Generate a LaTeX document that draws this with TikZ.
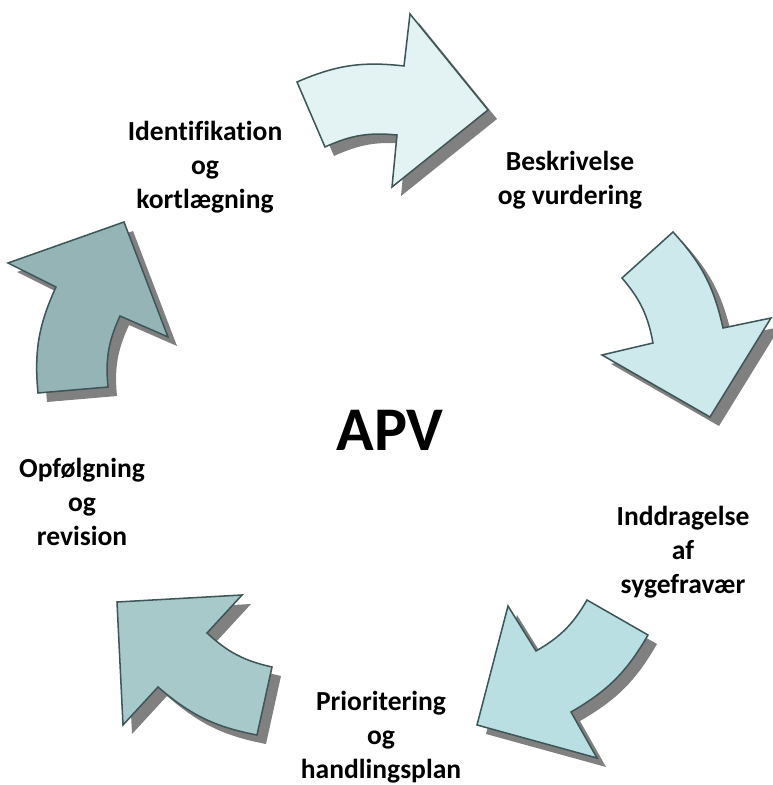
\documentclass[tikz,border=0pt]{standalone}
\usepackage{fontspec}
\setmainfont{Carlito}[Ligatures=NoCommon]
\usepackage{tikz}

\definecolor{arrowA}{HTML}{E3F3F3}
\definecolor{arrowB}{HTML}{CDE9EC}
\definecolor{arrowC}{HTML}{B9DFE3}
\definecolor{arrowD}{HTML}{A8C9CA}
\definecolor{arrowE}{HTML}{94B4B6}
\definecolor{rimgray}{HTML}{3E5657}
\definecolor{shadowgray}{HTML}{808080}

\tikzset{
  rim/.style={draw=rimgray, line width=1.3pt, line join=miter},
  shade/.style={fill=shadowgray, shift={(9,-9)}},
  steplabel/.style={font=\bfseries\fontsize{23.5}{29}\selectfont, align=center, inner sep=0pt}
}

% outer tail, outer end, notch, tip, notch, inner end, inner tail, colour
\newcommand{\bentarrow}[8]{%
  \fill[shade] #1 to[bend left=15] #2 -- #3 -- #4 -- #5 -- #6 to[bend right=15] #7 -- cycle;
  \filldraw[rim, fill=#8] #1 to[bend left=15] #2 -- #3 -- #4 -- #5 -- #6 to[bend right=15] #7 -- cycle;
}

\begin{document}
\begin{tikzpicture}[x=0.03cm, y=0.03cm]
  \useasboundingbox (0,0) rectangle (772,785);

  % the five arrows, clockwise from the top
  \bentarrow{(297,703)}{(404,719)}{(410,771)}{(488,675)}{(392,598)}{(397,650)}{(325,638)}{arrowA}
  \bentarrow{(673,553)}{(723,457)}{(771,467)}{(710,368)}{(602,430)}{(653,442)}{(622,507)}{arrowB}
  \bentarrow{(648,150)}{(571,73)}{(597,27)}{(477,60)}{(508,179)}{(536,134)}{(587,185)}{arrowC}
  \bentarrow{(257,50)}{(158,98)}{(123,60)}{(117,183)}{(242,190)}{(207,152)}{(272,118)}{arrowD}
  \bentarrow{(38,392)}{(56,498)}{(8,522)}{(124,563)}{(168,448)}{(120,469)}{(108,398)}{arrowE}

  % labels
  \node[steplabel] (ident) at (205,618) {Identifikation\\og\\kortlægning};
  \node[steplabel] (beskriv) at (570,605) {Beskrivelse\\og vurdering};
  \node[steplabel] (inddrag) at (683,233) {Inddragelse\\af\\sygefravær};
  \node[steplabel] (prior) at (381,48) {Prioritering\\og\\handlingsplan};
  \node[steplabel] (opfolg) at (82,283) {Opfølgning\\og\\revision};
  \node[font=\bfseries\fontsize{53}{60}\selectfont, inner sep=0pt] (apv) at (390,355) {APV};
\end{tikzpicture}
\end{document}
